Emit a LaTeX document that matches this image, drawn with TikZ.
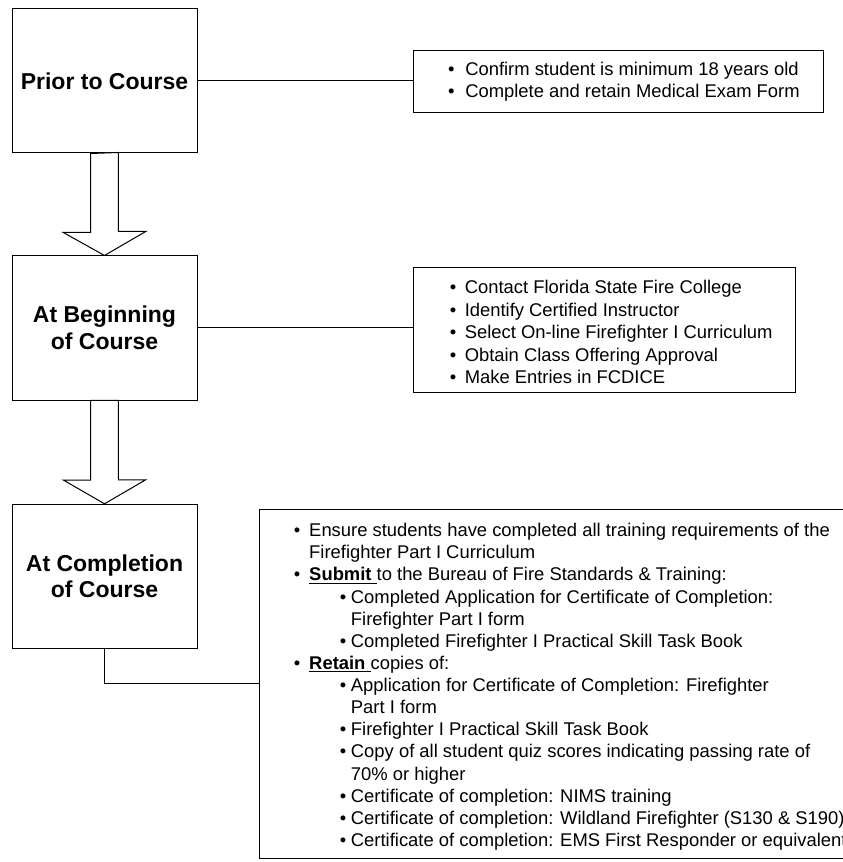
\documentclass[tikz,border=0pt]{standalone}
\usepackage{fontspec}
\setmainfont{Liberation Sans}
\newcommand{\bul}[1][11.6pt]{\makebox[#1][l]{\textbullet}}
\newcommand{\subbul}{\hspace*{34.5pt}\bul[8.4pt]}
\newcommand{\subcont}{\hspace*{42.9pt}}

\tikzset{
  stagebox/.style={draw, line width=0.75pt, minimum width=138.75pt, minimum height=108pt,
    inner sep=0pt, align=center, font=\fontsize{17.25pt}{19.9pt}\selectfont\bfseries},
  infobox/.style={draw, line width=0.75pt, inner sep=0pt},
  itemtext/.style={anchor=base west, align=left, inner sep=0pt,
    font=\fontsize{13.8pt}{16.6pt}\selectfont},
  link/.style={draw, line width=0.75pt},
  blockarrow/.style={draw, line width=0.75pt, fill=white, line join=miter},
}

\begin{document}
\begin{tikzpicture}[x=0.75pt, y=-0.75pt]
  \useasboundingbox (0,0) rectangle (842,862);

  \node[stagebox] (prior)    at (104.5,81)  {Prior to Course};
  \node[stagebox] (begin)    at (104.5,328) {At Beginning\\of Course};
  \node[stagebox] (complete) at (104.5,576.3) {At Completion\\of Course};

  \draw[blockarrow] (prior.south) ++(-13.8,0) -- ++(0,79) -- ++(-27.4,0) -- (begin.north)
    -- ++(41.2,-24) -- ++(-27.4,0) -- ++(0,-79) -- cycle;
  \draw[blockarrow] (begin.south) ++(-13.8,0) -- ++(0,79.5) -- ++(-27.4,0) -- (complete.north)
    -- ++(41.2,-24) -- ++(-27.4,0) -- ++(0,-79.5) -- cycle;

  \node[infobox, minimum width=308pt, minimum height=46.7pt]     (prereq)  at (618.65,81.15) {};
  \node[infobox, minimum width=286.3pt, minimum height=94pt]     (startup) at (604.15,330)   {};
  \node[infobox, minimum width=458.25pt, minimum height=261.75pt] (wrapup)  at (564.5,683.5)  {};

  % base anchor sits on the last line
  \node[itemtext, font=\fontsize{13.8pt}{16.5pt}\selectfont] (prereqlist) at (447.8,98) {%
    \bul[12.9pt]Confirm student is minimum 18 years old\\
    \bul[12.9pt]Complete and retain Medical Exam Form};

  \node[itemtext, font=\fontsize{13.8pt}{16.9pt}\selectfont] (startuplist) at (449.5,383.6) {%
    \bul[11.25pt]Contact Florida State Fire College\\
    \bul[11.25pt]Identify Certified Instructor\\
    \bul[11.25pt]Select On-line Firefighter I Curriculum\\
    \bul[11.25pt]Obtain Class Offering Approval\\
    \bul[11.25pt]Make Entries in FCDICE};

  \node[itemtext] (wrapuplist) at (293.5,846.5) {%
    \bul Ensure students have completed all training requirements of the\\
    \hspace*{11.6pt}Firefighter Part I Curriculum\\
    \bul\underline{\textbf{Submit}\ }to the Bureau of Fire Standards \& Training:\\
    \subbul Completed Application for Certificate of Completion:\\
    \subcont Firefighter Part I form\\
    \subbul Completed Firefighter I Practical Skill Task Book\\
    \bul\underline{\textbf{Retain}\ }copies of:\\
    \subbul Application for Certificate of Completion: Firefighter\\
    \subcont Part I form\\
    \subbul Firefighter I Practical Skill Task Book\\
    \subbul Copy of all student quiz scores indicating passing rate of\\
    \subcont 70\% or higher\\
    \subbul Certificate of completion: NIMS training\\
    \subbul Certificate of completion: Wildland Firefighter (S130 \& S190)\\
    \subbul Certificate of completion: EMS First Responder or equivalent};

  \draw[link] (prior.east) -- (prior.east -| prereq.west);
  \draw[link] (begin.east) -- (begin.east -| startup.west);
  \draw[link] (complete.south) |- (wrapup.west);
\end{tikzpicture}
\end{document}
